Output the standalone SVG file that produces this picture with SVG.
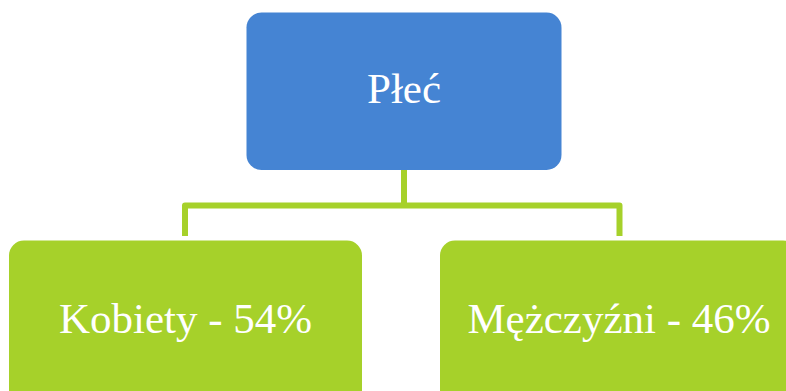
<svg xmlns="http://www.w3.org/2000/svg" width="786" height="391" viewBox="0 0 786 391">
<style>
.blue{fill:#4584D3}
.green{fill:#A6D12A}
.lbl{font-family:"Liberation Serif","Times New Roman",serif;font-size:43px;fill:#FFFFFF;text-anchor:middle}
.conn{fill:none;stroke:#A6D12A;stroke-width:6;stroke-linejoin:round}
</style>
<rect width="786" height="391" fill="#FFFFFF"/>
<g id="connectors">
<path class="conn" d="M404,170 V205.5"/>
<path class="conn" d="M185,236 V205.5 H619.5 V236"/>
</g>
<g id="node-plec">
<rect class="blue" x="246.5" y="12.5" width="315" height="157.5" rx="15"/>
<text class="lbl" x="404" y="103">Płeć</text>
</g>
<g id="node-kobiety">
<rect class="green" x="9" y="240.5" width="353" height="170" rx="15"/>
<text class="lbl" x="185.5" y="333">Kobiety - 54%</text>
</g>
<g id="node-mezczyzni">
<rect class="green" x="440" y="240.5" width="358" height="170" rx="15"/>
<text class="lbl" x="619" y="333">Mężczyźni - 46%</text>
</g>
</svg>
